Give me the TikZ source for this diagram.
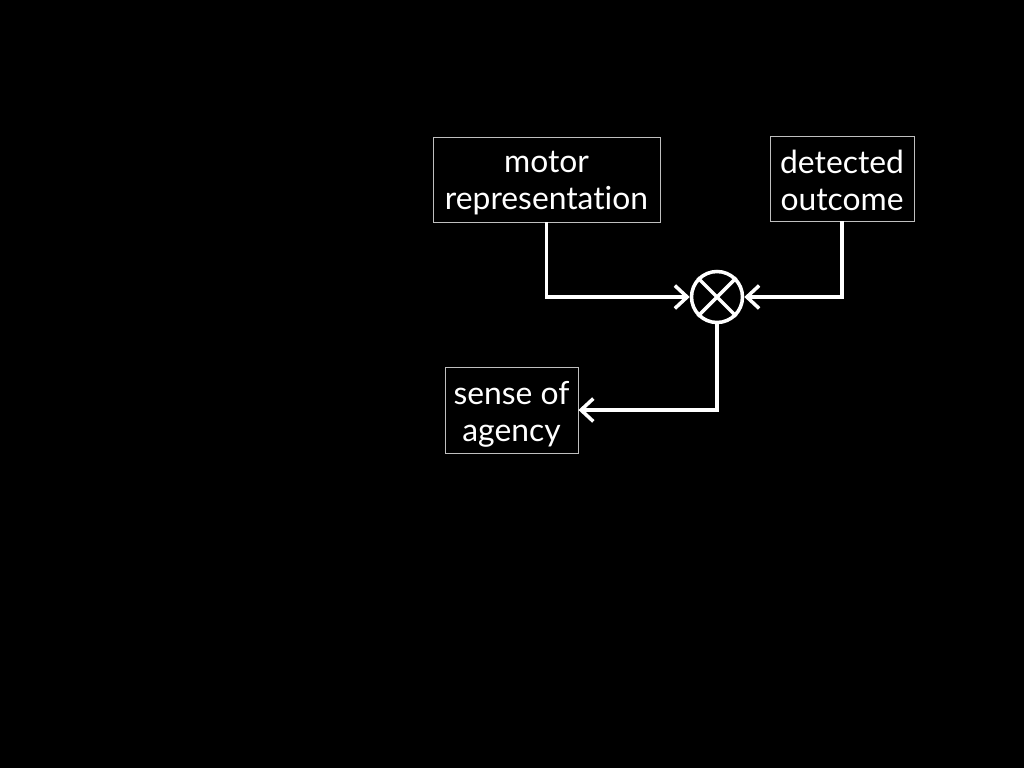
\documentclass[tikz,border=0pt]{standalone}
\usepackage{fontspec}
\setmainfont{Lato}[Ligatures=NoCommon]
\usetikzlibrary{positioning, arrows.meta}

\begin{document}
\begin{tikzpicture}[x=0.02cm, y=-0.02cm,
  blk/.style={draw=white!75!black, line width=0.5pt, inner sep=0pt},
  blktext/.style={text=white, align=center, yshift=-0.08cm, font=\fontsize{18.1}{21}\selectfont},
  mixer/.style={circle, draw=white, line width=2pt, minimum size=1.02cm, inner sep=0pt},
  wire/.style={draw=white, line width=2pt, -{Straight Barb[length=7pt, width=13pt]}}]
  \fill[black] (0,0) rectangle (1024,768);
  \useasboundingbox (0,0) rectangle (1024,768);
  % blocks
  \node[blk, minimum width=4.54cm, minimum height=1.7cm, label={[blktext]center:motor\\representation}] (motor) at (546.5,179.5) {};
  \node[blk, minimum width=2.88cm, minimum height=1.7cm, label={[blktext, yshift=0.04cm]center:detected\\outcome}] (detected) at (842,178.5) {};
  \node[blk, minimum width=2.66cm, minimum height=1.72cm, label={[blktext]center:sense of\\agency}] (sense) at (511.5,410) {};
  % comparator
  \node[mixer] (sum) at (717,297) {};
  \draw[white, line width=2pt] (sum.north west) -- (sum.south east) (sum.north east) -- (sum.south west);
  % wires
  \draw[wire] (motor.south) |- (sum.west);
  \draw[wire] (detected.south) |- (sum.east);
  \draw[wire] (sum.south) |- (sense.east);
\end{tikzpicture}
\end{document}
